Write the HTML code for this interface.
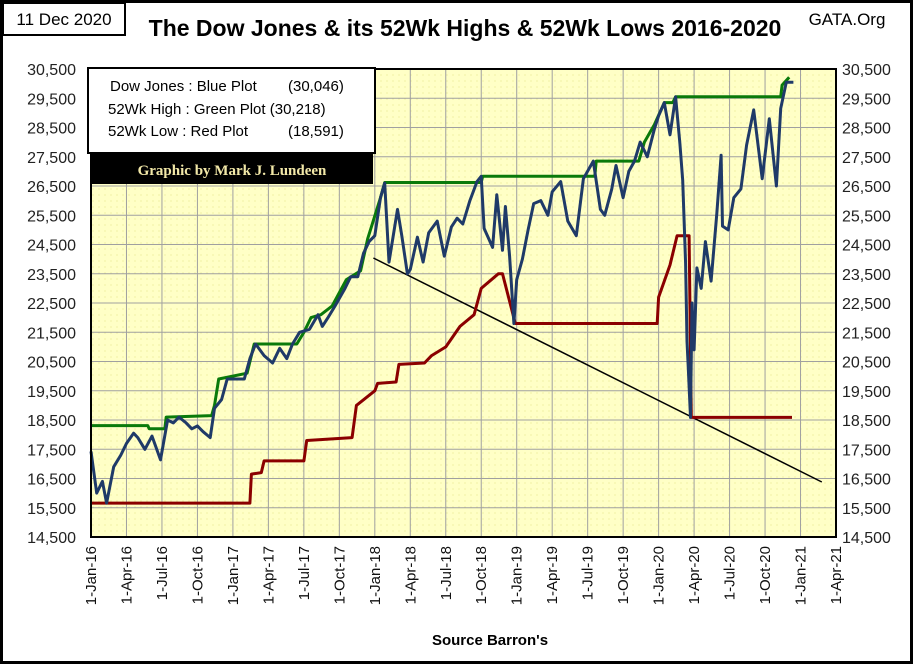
<!DOCTYPE html>
<html><head><meta charset="utf-8"><style>
body{margin:0;background:#fff;}
svg text{font-family:"Liberation Sans",sans-serif;}
</style></head><body>
<svg width="913" height="664" viewBox="0 0 913 664">
<rect x="1.5" y="1.5" width="910" height="661" fill="#fff" stroke="#000" stroke-width="3"/>
<rect x="3" y="3" width="122" height="32" fill="#fff" stroke="#000" stroke-width="2"/>
<text x="64" y="25" font-size="17" text-anchor="middle">11 Dec 2020</text>
<text x="465" y="36" font-size="23" font-weight="bold" text-anchor="middle">The Dow Jones &amp; its 52Wk Highs &amp; 52Wk Lows 2016-2020</text>
<text x="847" y="25" font-size="17" text-anchor="middle">GATA.Org</text>
<defs><pattern id="dots" width="6" height="6" patternUnits="userSpaceOnUse"><rect width="6" height="6" fill="#ffffc6"/><circle cx="3" cy="3" r="0.6" fill="#e6e690"/></pattern></defs>
<rect x="91" y="69" width="745" height="468" fill="url(#dots)"/>
<g id="grid"></g>
<g id="axes"></g>
<g id="series"></g>
<rect x="91" y="69" width="745" height="468" fill="none" stroke="#000" stroke-width="2"/>
<rect x="88" y="68" width="287" height="85" fill="#fff" stroke="#000" stroke-width="2"/>
<text x="110" y="91" font-size="15">Dow Jones : Blue Plot<tspan x="288">(30,046)</tspan></text>
<text x="108" y="114" font-size="15">52Wk High : Green Plot (30,218)</text>
<text x="108" y="136" font-size="15">52Wk Low  : Red Plot<tspan x="288">(18,591)</tspan></text>
<rect x="91" y="153" width="282" height="31" fill="#000"/>
<text x="232" y="175" font-size="15" font-weight="bold" fill="#f2e8a8" text-anchor="middle" style="font-family:'Liberation Serif',serif">Graphic by Mark J. Lundeen</text>
<text x="490" y="645" font-size="15" font-weight="bold" text-anchor="middle">Source Barron's</text>
</svg>
<script>
const yTicks=[14500,15500,16500,17500,18500,19500,20500,21500,22500,23500,24500,25500,26500,27500,28500,29500,30500];
const xTickLabels=["1-Jan-16","1-Apr-16","1-Jul-16","1-Oct-16","1-Jan-17","1-Apr-17","1-Jul-17","1-Oct-17","1-Jan-18","1-Apr-18","1-Jul-18","1-Oct-18","1-Jan-19","1-Apr-19","1-Jul-19","1-Oct-19","1-Jan-20","1-Apr-20","1-Jul-20","1-Oct-20","1-Jan-21","1-Apr-21"];
const dowDates=[2016.0,2016.04,2016.08,2016.11,2016.16,2016.21,2016.25,2016.3,2016.33,2016.38,2016.43,2016.49,2016.54,2016.58,2016.62,2016.67,2016.71,2016.75,2016.79,2016.84,2016.87,2016.92,2016.96,
2017.0,2017.08,2017.12,2017.16,2017.22,2017.28,2017.33,2017.38,2017.42,2017.47,2017.54,2017.6,2017.63,2017.67,2017.72,2017.79,2017.83,2017.88,2017.92,2017.96,
2018.0,2018.04,2018.07,2018.1,2018.16,2018.19,2018.23,2018.25,2018.3,2018.34,2018.38,2018.44,2018.49,2018.54,2018.58,2018.62,2018.67,2018.72,2018.75,2018.77,2018.83,2018.86,2018.9,2018.92,2018.95,2018.98,
2019.0,2019.04,2019.08,2019.12,2019.17,2019.22,2019.25,2019.31,2019.36,2019.42,2019.47,2019.54,2019.59,2019.62,2019.67,2019.7,2019.75,2019.79,2019.83,2019.87,2019.92,2019.97,
2020.0,2020.04,2020.08,2020.12,2020.15,2020.17,2020.19,2020.2,2020.21,2020.225,2020.235,2020.25,2020.27,2020.3,2020.33,2020.37,2020.41,2020.44,2020.45,2020.49,2020.53,2020.58,2020.62,2020.67,2020.73,2020.78,2020.83,2020.86,2020.9,2020.95];
const dowValues=[17425,16000,16400,15660,16900,17300,17700,18050,17900,17500,17950,17140,18500,18400,18600,18400,18200,18300,18100,17900,18900,19200,19900,
19900,19900,20600,21100,20700,20450,20950,20600,21100,21500,21600,22100,21700,22000,22400,23000,23400,23400,24200,24600,
24800,26100,26600,23900,25700,24800,23500,23650,24750,23900,24900,25300,24100,25100,25400,25200,26000,26650,26830,25050,24400,26200,24300,25800,24100,21800,
23300,24000,25000,25900,26000,25500,26300,26650,25300,24800,26750,27350,25700,25500,26400,27200,26100,27000,27350,28000,27500,28450,
28900,29350,28250,29550,27950,26700,23850,21200,20190,18590,22500,20900,23700,23000,24600,23250,25550,27550,25130,25000,26100,26400,27900,29100,26750,28800,26500,29150,30050,30046];
const highDates=[2016.0,2016.4,2016.41,2016.52,2016.53,2016.85,2016.87,2016.9,2016.97,2017.1,2017.15,2017.45,2017.5,2017.55,2017.62,2017.7,2017.8,2017.9,2017.95,2018.04,2018.07,2018.75,2018.76,2019.55,2019.56,2019.86,2019.9,2019.97,2020.04,2020.1,2020.12,2020.86,2020.87,2020.92];
const highValues=[18310,18310,18200,18200,18600,18650,19000,19900,19970,20100,21100,21100,21500,22000,22100,22400,23300,23600,24700,26100,26620,26620,26830,26830,27350,27350,28000,28600,29350,29350,29550,29550,29950,30218];
const lowDates=[2016.0,2017.12,2017.13,2017.2,2017.22,2017.5,2017.52,2017.84,2017.87,2018.0,2018.02,2018.15,2018.17,2018.35,2018.4,2018.5,2018.6,2018.7,2018.75,2018.87,2018.9,2018.99,2019.99,2020.0,2020.08,2020.13,2020.215,2020.23,2020.94];
const lowValues=[15660,15660,16650,16700,17100,17100,17800,17900,19000,19500,19750,19800,20400,20450,20700,21000,21700,22100,23000,23500,23500,21800,21800,22700,23800,24800,24800,18590,18590];
const trendDates=[2017.99,2021.15];
const trendValues=[24040,16380];

const X0=91,X1=836,Y0=69,Y1=537,T0=2016,T1=2021.25,V0=14500,V1=30500;
const xs=t=>X0+(t-T0)/(T1-T0)*(X1-X0);
const ys=v=>Y1-(v-V0)/(V1-V0)*(Y1-Y0);
const NS="http://www.w3.org/2000/svg";
function mk(tag,attrs,parent){const e=document.createElementNS(NS,tag);for(const k in attrs)e.setAttribute(k,attrs[k]);parent.appendChild(e);return e;}
const grid=document.getElementById('grid'),axes=document.getElementById('axes'),series=document.getElementById('series');
yTicks.forEach(v=>{
  const y=ys(v);
  const l=mk('line',{x1:X0,x2:X1,y1:y,y2:y,stroke:'#a0a0a0','stroke-width':1},grid);
  
  
  const lab=v.toLocaleString('en-US');
  const t1=mk('text',{x:76,y:y+6,'font-size':16,'text-anchor':'end',fill:'#222'},axes);t1.textContent=lab;
  
  
  const t2=mk('text',{x:842,y:y+6,'font-size':16,fill:'#222'},axes);t2.textContent=lab;
  
  
});
xTickLabels.forEach((s,i)=>{
  const x=xs(T0+i*0.25);
  const l=mk('line',{x1:x,x2:x,y1:Y0,y2:Y1,stroke:'#a0a0a0','stroke-width':1},grid);
  
  
  const t=mk('text',{x:0,y:0,'font-size':15,'text-anchor':'end',transform:`translate(${x+5},546) rotate(-90)`,fill:'#111'},axes);t.textContent=s;
  
  
});
function line(dates,vals,color,w,name){
  const pts=dates.map((d,i)=>xs(d).toFixed(1)+','+ys(vals[i]).toFixed(1)).join(' ');
  const p=mk('polyline',{points:pts,fill:'none',stroke:color,'stroke-width':w,'stroke-linejoin':'round'},series);
  
  
}
line(trendDates,trendValues,'#000',1.5,'trend-line');
line(lowDates,lowValues,'#8b0000',3,'low-52wk-line');
line(highDates,highValues,'#0a7a0a',3,'high-52wk-line');
line(dowDates,dowValues,'#1f3a68',3,'dow-line');
</script>
</body></html>
